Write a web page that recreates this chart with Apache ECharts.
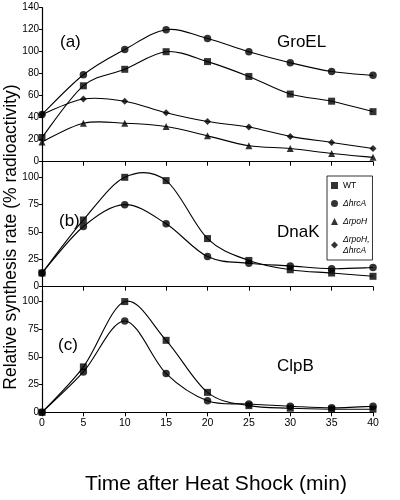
<!DOCTYPE html>
<html><head><meta charset="utf-8">
<script src="https://cdn.jsdelivr.net/npm/echarts@6/dist/echarts.min.js"></script>
<style>html,body{margin:0;padding:0;background:#fff}#c{width:400px;height:500px}</style>
</head><body><div id="c"></div>
<script>
const times = [0, 5, 10, 15, 20, 25, 30, 35, 40];
const names = ['WT', 'ΔhrcA', 'ΔrpoH', 'ΔrpoH, ΔhrcA'];
const symbols = ['rect', 'circle', 'triangle', 'diamond'];
// Panel (a) GroEL
const groelWT = [22, 69, 84, 100, 91, 77.5, 61.5, 55, 45.5];
const groelHrcA = [43, 79, 102, 120, 112, 100, 90, 82, 78.5];
const groelRpoH = [18, 35, 35, 32, 23.5, 14.5, 12, 7.5, 4];
const groelDouble = [43, 57, 55, 44.5, 36.5, 31.5, 23, 17.5, 12];
// Panel (b) DnaK
const dnakWT = [12.5, 61, 100, 97, 44, 24, 15.5, 12.5, 9.5];
const dnakHrcA = [12.5, 55, 75, 57.5, 27.5, 21.5, 19, 16.5, 17.5];
// Panel (c) ClpB
const clpbWT = [0, 41, 100, 65, 18, 6, 3.7, 2.8, 2.8];
const clpbHrcA = [0, 36.5, 82.5, 35, 10.5, 7.5, 5.5, 4, 5.5];

const panelLabels = ['(a)', '(b)', '(c)'];
const proteinLabels = ['GroEL', 'DnaK', 'ClpB'];
const xTitle = 'Time after Heat Shock (min)';
const yTitle = 'Relative synthesis rate (% radioactivity)';

const FONT = 'Liberation Sans, Arial, sans-serif';
const pair = d => times.map((t, i) => [t, d[i]]);

// Smooth curve (Catmull-Rom through the data points, via the axes' coordinate system)
function curve(data, idx) {
  const n = data.length;
  return {
    type: 'custom', xAxisIndex: idx, yAxisIndex: idx, data: pair(data), silent: true, z: 2,
    renderItem: (params, api) => {
      const i = params.dataIndex;
      if (i >= n - 1) return null;
      const P = j => { j = Math.max(0, Math.min(n - 1, j)); return api.coord([times[j], data[j]]); };
      const p0 = P(i - 1), p1 = P(i), p2 = P(i + 1), p3 = P(i + 2);
      return {
        type: 'bezierCurve',
        shape: {
          x1: p1[0], y1: p1[1], x2: p2[0], y2: p2[1],
          cpx1: p1[0] + (p2[0] - p0[0]) / 6, cpy1: p1[1] + (p2[1] - p0[1]) / 6,
          cpx2: p2[0] - (p3[0] - p1[0]) / 6, cpy2: p2[1] - (p3[1] - p1[1]) / 6
        },
        style: {stroke: '#000', fill: null, lineWidth: 1.1}
      };
    }
  };
}
function marks(name, data, idx, sym, size) {
  return {
    name, type: 'scatter', xAxisIndex: idx, yAxisIndex: idx, data: pair(data),
    symbol: sym, symbolSize: size, itemStyle: {color: '#000'}, emphasis: {disabled: true}, z: 4
  };
}

const grids = [
  {left: 42, right: 27, top: 7.7, height: 154},
  {left: 42, right: 27, top: 162, height: 124.7},
  {left: 42, right: 27, top: 290.5, height: 121.8}
];
const yMax = [140, 114, 110];
const yInt = [20, 25, 25];

const xAxes = grids.map((g, i) => ({
  type: 'value', gridIndex: i, min: 0, max: 40, interval: 5,
  axisLine: {show: true, lineStyle: {color: '#000', width: 1.2}},
  axisTick: {show: true, length: 4, lineStyle: {color: '#000'}},
  axisLabel: {show: i === 2, color: '#000', fontFamily: FONT, fontSize: 10.5, margin: 5},
  splitLine: {show: false}
}));
const yAxes = grids.map((g, i) => ({
  type: 'value', gridIndex: i, min: 0, max: yMax[i], interval: yInt[i],
  axisLine: {show: true, lineStyle: {color: '#000', width: 1.2}},
  axisTick: {show: true, length: 3, lineStyle: {color: '#000'}},
  axisLabel: {color: '#000', fontFamily: FONT, fontSize: 10, margin: 3, showMaxLabel: i === 0},
  splitLine: {show: false}
}));

const series = [
  curve(groelWT, 0), curve(groelHrcA, 0), curve(groelRpoH, 0), curve(groelDouble, 0),
  curve(dnakWT, 1), curve(dnakHrcA, 1), curve(clpbWT, 2), curve(clpbHrcA, 2),
  marks(names[0], groelWT, 0, 'rect', 7),
  marks(names[1], groelHrcA, 0, 'circle', 7.5),
  marks(names[2], groelRpoH, 0, 'triangle', 7),
  marks(names[3], groelDouble, 0, 'diamond', 7),
  marks(names[0], dnakWT, 1, 'rect', 7),
  marks(names[1], dnakHrcA, 1, 'circle', 7.5),
  marks(names[0], clpbWT, 2, 'rect', 7),
  marks(names[1], clpbHrcA, 2, 'circle', 7.5)
];

const txt = (x, y, s, size) => ({
  type: 'text', x, y,
  style: {text: s, fill: '#000', font: size + 'px ' + FONT, textAlign: 'left', textVerticalAlign: 'middle'}
});

const option = {
  backgroundColor: '#fff',
  animation: false,
  grid: grids,
  xAxis: xAxes,
  yAxis: yAxes,
  series,
  legend: {
    orient: 'vertical', left: 327, top: 176,
    padding: [5, 3, 5, 4], itemGap: 9, itemWidth: 7, itemHeight: 7,
    borderColor: '#000', borderWidth: 0.8, backgroundColor: '#fff',
    selectedMode: false,
    data: names.map((n, i) => ({name: n, icon: symbols[i]})),
    itemStyle: {color: '#000'},
    textStyle: {fontFamily: FONT, fontSize: 8.5, color: '#000',
      rich: {i: {fontStyle: 'italic', fontFamily: FONT, fontSize: 8.5, lineHeight: 11}}},
    formatter: n => n === 'WT' ? 'WT' : (n.indexOf(',') > 0 ? '{i|ΔrpoH,}\n{i|ΔhrcA}' : '{i|' + n + '}')
  },
  graphic: [
    txt(60, 42, panelLabels[0], 17),
    txt(277, 42, proteinLabels[0], 17),
    txt(59, 221, panelLabels[1], 17),
    txt(277, 232, proteinLabels[1], 17),
    txt(58, 345, panelLabels[2], 17),
    txt(277, 366, proteinLabels[2], 17),
    {type: 'text', x: 216, y: 484, style: {text: xTitle, fill: '#000', font: '21px ' + FONT, textAlign: 'center', textVerticalAlign: 'middle'}},
    {type: 'text', x: 11, y: 237, rotation: Math.PI / 2,
      style: {text: yTitle, fill: '#000', font: '17.5px ' + FONT, textAlign: 'center', textVerticalAlign: 'middle'}}
  ]
};
echarts.init(document.getElementById('c'), null, {renderer: 'canvas'}).setOption(option);
</script></body></html>
